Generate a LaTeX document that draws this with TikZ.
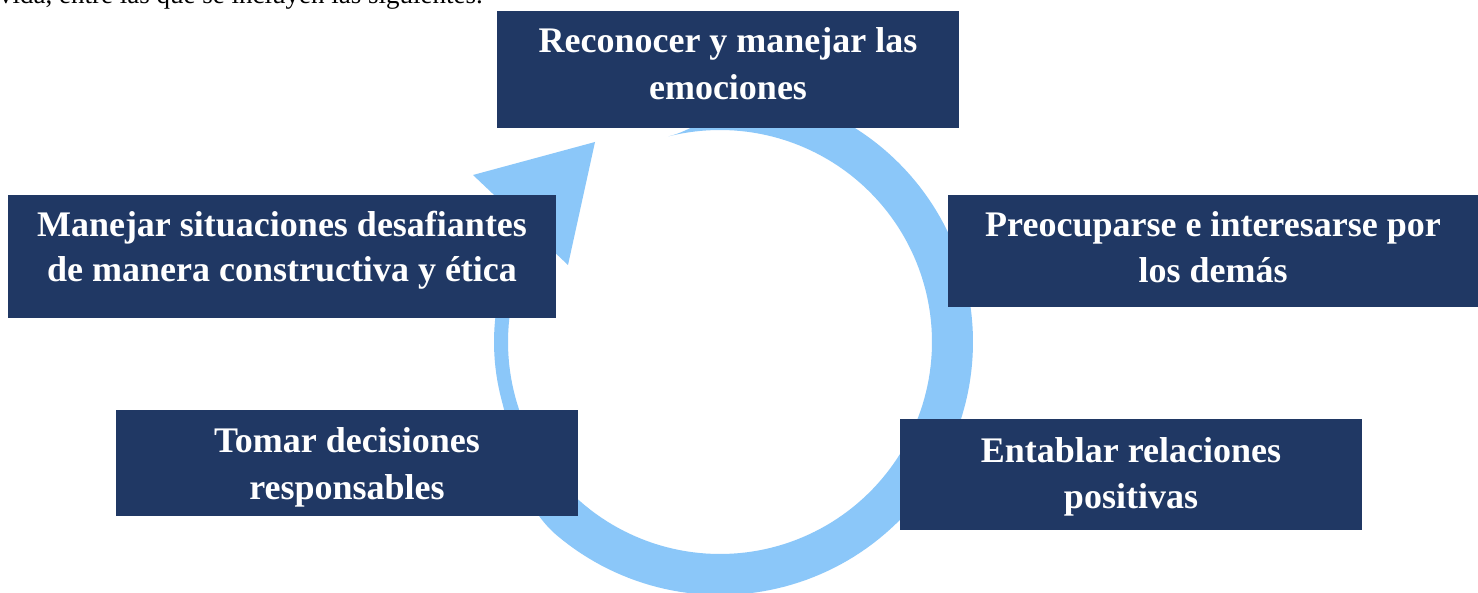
\documentclass[tikz,border=0pt]{standalone}
\usepackage{fontspec}
\setmainfont{Liberation Serif}
\definecolor{navy}{RGB}{32,56,100}
\definecolor{ringblue}{RGB}{139,199,249}
\begin{document}
\begin{tikzpicture}[x=1pt,y=-1pt,
  box/.style={fill=navy, draw=none, inner sep=0pt, outer sep=0pt, anchor=north west},
  txt/.style={anchor=base, inner sep=0pt, text=white, font=\fontsize{36}{42}\selectfont\bfseries},
  ring/.style={fill=ringblue, draw=none}]
\useasboundingbox (0,0) rectangle (1478,593);
\clip (0,0) rectangle (1478,593);
\fill[white] (0,0) rectangle (1478,593);
% intro line, cut off at the top as in the source
\node[anchor=base west, inner sep=0pt, font=\fontsize{27}{30}\selectfont] (intro) at (-1,4) {vida, entre las que se incluyen las siguientes.};
% circular arrow: tapered ring + head
\fill[ring]
  plot[domain=256:286, samples=40, variable=\a] ({720+(212+20.5*(1-cos(6*(\a-256))))*cos(\a)}, {342+(212+20.5*(1-cos(6*(\a-256))))*sin(\a)})
  -- plot[domain=286:490, samples=120, variable=\a] ({720+253*cos(\a)}, {342+253*sin(\a)})
  -- plot[domain=490:525, samples=40, variable=\a] ({720+(253-13.5*(1-cos((\a-490)*5.1429)))*cos(\a)}, {342+(253-13.5*(1-cos((\a-490)*5.1429)))*sin(\a)})
  -- plot[domain=525:575, samples=30, variable=\a] ({720+226*cos(\a)}, {342+226*sin(\a)})
  -- plot[domain=575:256, samples=180, variable=\a] ({720+212*cos(\a)}, {342+212*sin(\a)})
  -- cycle;
\coordinate (hl) at (473,175);
\coordinate (ht) at (595,142);
\coordinate (hb) at (568,265);
\fill[ring] (hl) -- (ht) -- (hb) -- cycle;
% boxes
\node[box, minimum width=462pt, minimum height=117pt] (b1) at (497,11) {};
\node[box, minimum width=548pt, minimum height=123pt] (b2) at (8,195) {};
\node[box, minimum width=530pt, minimum height=112pt] (b3) at (948,195) {};
\node[box, minimum width=462pt, minimum height=106pt] (b4) at (116,410) {};
\node[box, minimum width=462pt, minimum height=111pt] (b5) at (900,419) {};
% texts
\node[txt] (t1a) at (728,53) {Reconocer y manejar las};
\node[txt] (t1b) at (728,100) {emociones};
\node[txt] (t2a) at (282,237) {Manejar situaciones desafiantes};
\node[txt] (t2b) at (282,282) {de manera constructiva y ética};
\node[txt] (t3a) at (1213,237) {Preocuparse e interesarse por};
\node[txt] (t3b) at (1213,283) {los demás};
\node[txt] (t4a) at (347,452) {Tomar decisiones};
\node[txt] (t4b) at (347,499) {responsables};
\node[txt] (t5a) at (1131,462) {Entablar relaciones};
\node[txt] (t5b) at (1131,508) {positivas};
\end{tikzpicture}
\end{document}
